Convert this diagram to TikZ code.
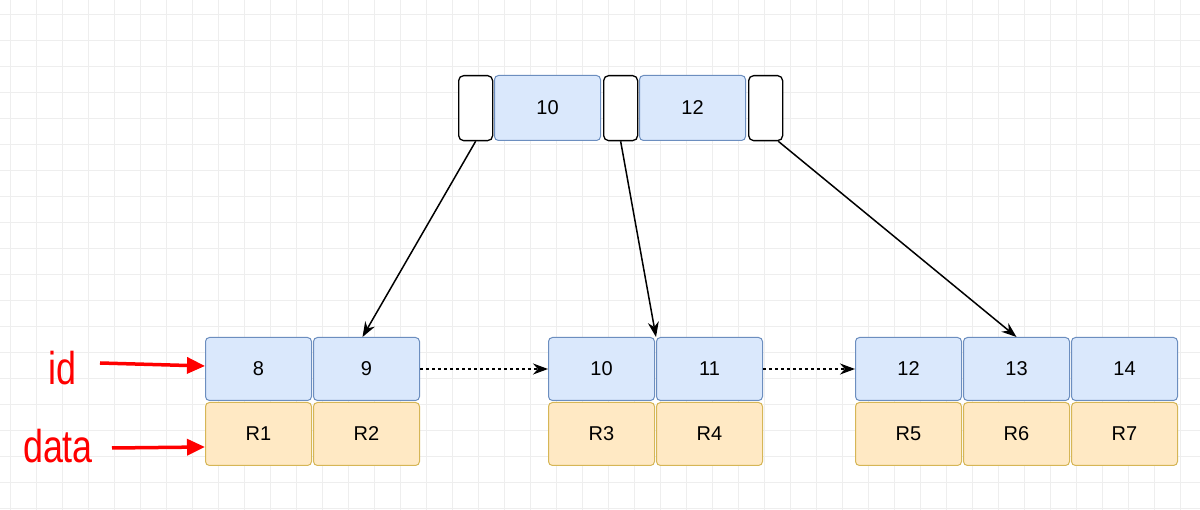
\documentclass[tikz,border=0pt]{standalone}
\usepackage{fontspec}
\setmainfont{Liberation Sans}
\usetikzlibrary{arrows.meta}
\definecolor{bfill}{HTML}{DAE8FC}\definecolor{bdraw}{HTML}{6C8EBF}
\definecolor{ofill}{HTML}{FFE9C4}\definecolor{odraw}{HTML}{D6B656}
\definecolor{gridc}{HTML}{EEEEEE}
\begin{document}
\begin{tikzpicture}[x=1pt,y=-1pt,
  cell/.style={draw, rounded corners=4pt, line width=1pt, minimum width=106pt, minimum height=63pt, inner sep=0pt, font=\fontsize{20}{24}\selectfont, anchor=north west},
  key/.style={cell, fill=bfill, draw=bdraw},
  dat/.style={cell, fill=ofill, draw=odraw},
  ptr/.style={draw=black, fill=white, rounded corners=5pt, line width=1.3pt, minimum width=34pt, minimum height=65pt, inner sep=0pt, anchor=north west},
  link/.style={-{Stealth[length=15pt,width=11pt]}, line width=1.5pt},
  dlink/.style={link, dash pattern=on 3pt off 3pt, line width=2pt},
  red/.style={-{Triangle[length=18pt,width=16pt]}, draw=red, line width=3.5pt},
  lab/.style={text=red, font=\fontsize{46}{50}\selectfont, xscale=0.78}]
\useasboundingbox (0,0) rectangle (1200,510);
\fill[white] (0,0) rectangle (1200,510);
\foreach \x in {10,36,...,1200} \draw[gridc,line width=0.6pt] (\x,0) -- (\x,510);
\foreach \y in {14,40,...,510} \draw[gridc,line width=0.6pt] (0,\y) -- (1200,\y);
% root
\node[ptr] (p0) at (458,75) {};
\node[key,minimum height=65pt] (r1) at (494,75) {10};
\node[ptr] (p1) at (603,75) {};
\node[key,minimum height=65pt] (r2) at (639,75) {12};
\node[ptr] (p2) at (748,75) {};
% leaves
\node[key] (k8) at (205,337) {8};
\node[key] (k9) at (313,337) {9};
\node[dat] (d1) at (205,402) {R1};
\node[dat] (d2) at (313,402) {R2};
\node[key] (k10) at (548,337) {10};
\node[key] (k11) at (656,337) {11};
\node[dat] (d3) at (548,402) {R3};
\node[dat] (d4) at (656,402) {R4};
\node[key] (k12) at (855,337) {12};
\node[key] (k13) at (963,337) {13};
\node[key] (k14) at (1071,337) {14};
\node[dat] (d5) at (855,402) {R5};
\node[dat] (d6) at (963,402) {R6};
\node[dat] (d7) at (1071,402) {R7};
% pointers
\draw[link] (p0.south) -- ([xshift=-4pt]k9.north);
\draw[link] (p1.south) -- (k11.north west);
\draw[link] ([xshift=-5pt]p2.south east) -- (k13.north);
\draw[dlink] (k9.east) -- (k10.west);
\draw[dlink] (k11.east) -- (k12.west);
% labels
\node[lab] (lid) at (62,368) {id};
\node[lab] (ldata) at (58,446) {data};
\draw[red] (100,363) -- ([yshift=3pt]k8.west);
\draw[red] (112,448) -- ([yshift=-13pt]d1.west);
\end{tikzpicture}
\end{document}
